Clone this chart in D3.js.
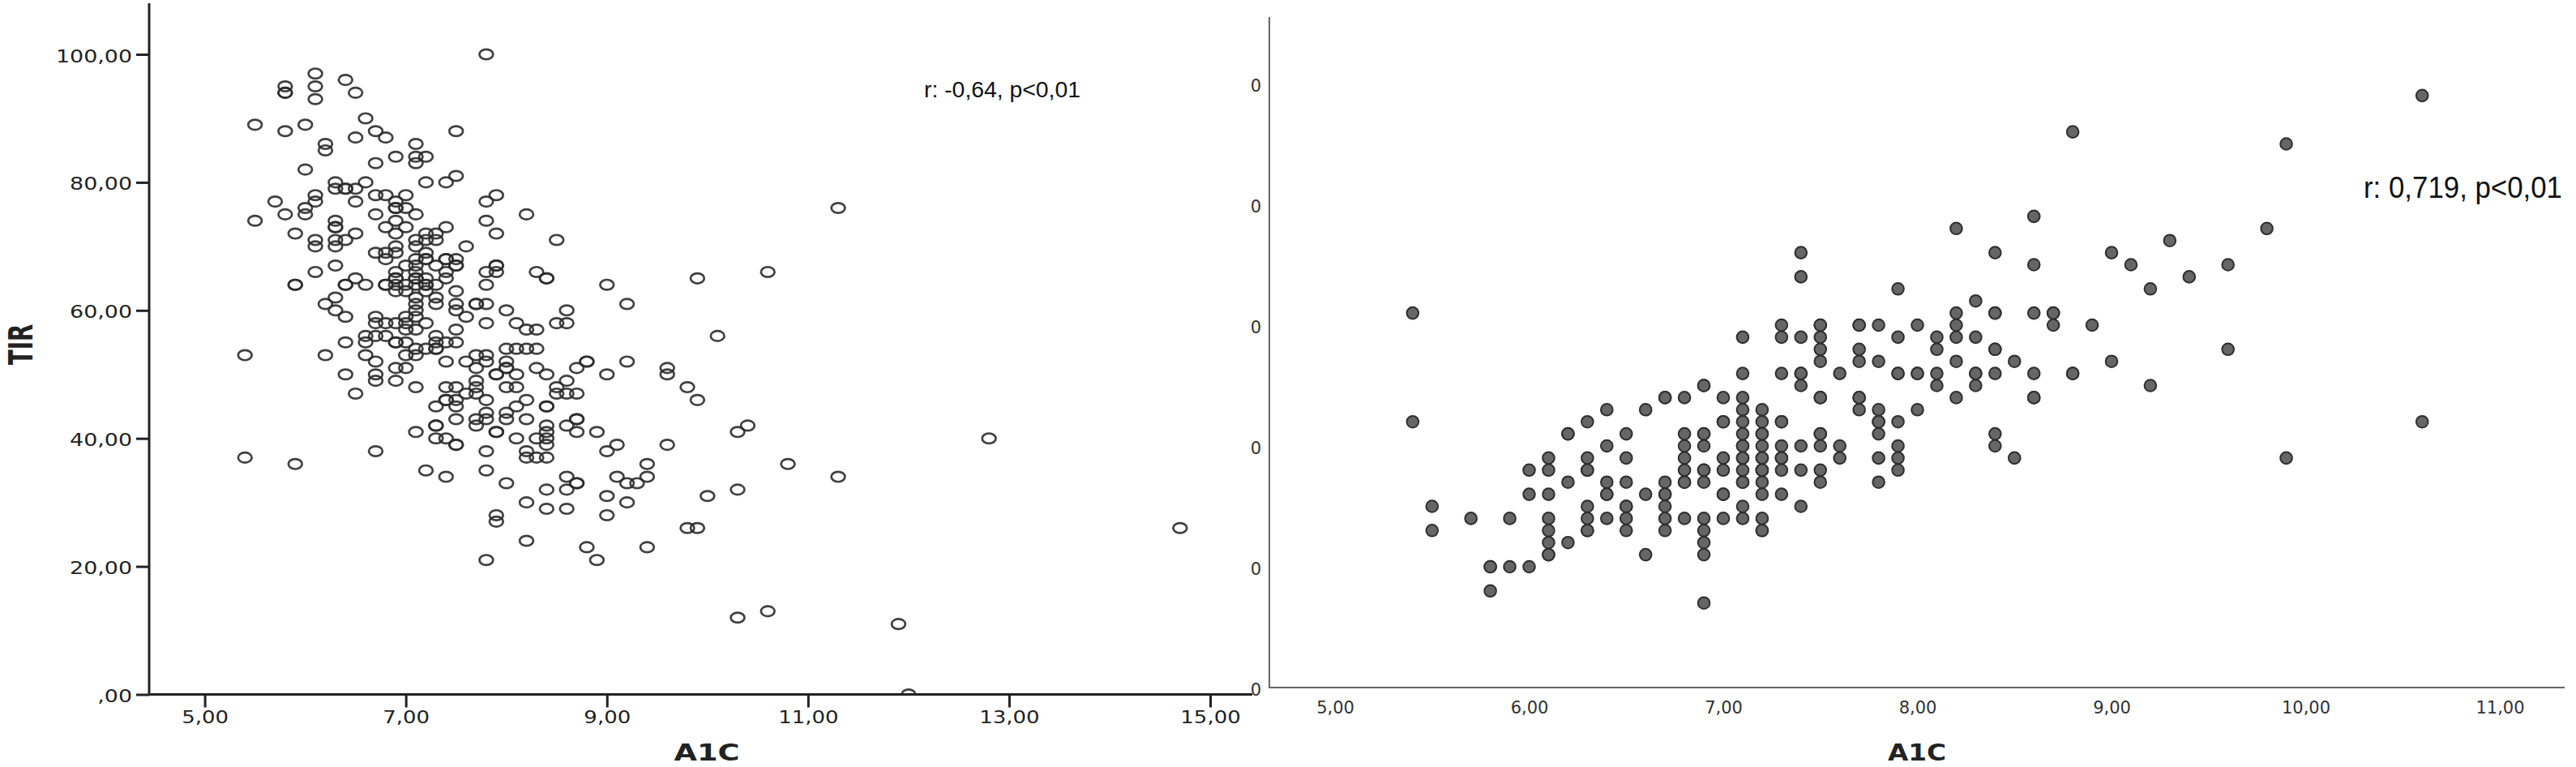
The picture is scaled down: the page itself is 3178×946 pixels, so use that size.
<!DOCTYPE html>
<html><head><meta charset="utf-8">
<script src="https://cdn.jsdelivr.net/npm/d3@7/dist/d3.min.js"></script>
<style>html,body{margin:0;padding:0;background:#fff}svg{display:block}</style>
</head><body><svg id="c" width="3178" height="946"></svg>
<script>
// TIR vs A1C: one row per TIR value, listing the A1C values at that TIR
const tirLevels=[100,97,96,95,94,93,90,89,88,87,86,85,84,83,82,81,80,79,78,77,76,75,74,73,72,71,70,69,68,67,66,65,64,63,62,61,60,59,58,57,56,55,54,53,52,51,50,49,48,47,46,45,44,43,42,41,40,39,38,37,36,35,34,33,32,31,30,29,28,27,26,24,23,21,13,12,11,0];
const tirA1c=[
[7.8],[6.1],[6.4],[5.8,6.1],[5.8,5.8,6.5],[6.1],[6.6],[5.5,6.0],[5.8,6.7,7.5],[6.5,6.8],[6.2,7.1],[6.2],[6.9,7.1,7.2],[6.7,7.1],[6.0],[7.5],
[6.3,6.6,7.2,7.4],[6.3,6.4,6.4,6.5],[6.1,6.7,6.8,7.0,7.9],[5.7,6.1,6.5,6.9,7.8],[6.0,6.9,6.9,7.0,11.3],[5.8,6.0,6.7,7.1,8.2],[5.5,6.3,6.9,7.8],
[6.3,6.3,6.8,7.0,7.4],[5.9,6.5,6.9,7.2,7.3,7.9],[6.1,6.3,6.4,7.1,7.2,7.3,8.5],[6.1,6.3,6.9,7.1,7.6],[6.7,6.8,6.9,7.2],[6.8,7.1,7.2,7.2,7.4,7.4,7.5],
[6.3,7.0,7.1,7.3,7.5,7.5,7.9,7.9],[6.1,6.9,7.1,7.4,7.8,7.9,8.3,10.6],[6.5,6.9,6.9,7.1,7.1,7.2,7.4,8.4,8.4,9.9],
[5.9,5.9,6.4,6.4,6.6,6.8,6.8,6.9,7.0,7.1,7.2,7.2,7.3,7.8,9.0],[6.9,7.0,7.2,7.5],[6.3,7.1,7.3],[6.2,7.1,7.3,7.5,7.7,7.7,7.8,9.2],[6.3,7.1,7.5,8.0,8.6],
[6.4,6.7,7.0,7.1,7.6],[6.7,6.8,6.9,7.0,7.2,7.8,8.1,8.5,8.6],[7.0,7.1,7.5,8.2,8.3],[6.6,6.7,6.8,7.3,10.1],[6.4,6.6,6.9,6.9,7.0,7.3,7.4,7.5],
[7.1,7.2,7.3,7.3,8.0,8.1,8.2,8.3],[5.4,6.2,6.6,7.0,7.1,7.7,7.8],[6.7,7.4,7.6,7.8,8.0,8.8,8.8,9.2],[6.9,7.0,7.7,8.0,8.0,8.3,8.7,9.6],[6.4,6.7,7.9,7.9,8.1,8.4,9.0,9.6],
[6.7,6.9,7.7,8.6],[7.1,7.4,7.5,7.7,8.0,8.1,8.5,9.8],[6.5,7.6,7.7,8.5,8.6,8.7],[7.4,7.4,7.5,7.8,8.2,9.9],[7.3,7.5,8.1,8.4,8.4],[7.8,8.0],
[7.5,7.7,7.8,8.0,8.2,8.7,8.7],[7.3,7.3,7.7,8.4,8.6,10.4],[7.1,7.9,7.9,8.4,8.7,8.9,10.3],[7.3,7.4,8.1,8.3,8.4,12.8],[7.5,7.5,8.4,9.1,9.6],
[6.7,7.8,8.2,9.0],[5.4,8.2,8.3,8.4],[5.9,9.4,10.8],[7.2,7.8],[7.4,8.6,9.1,9.4,11.3],[8.0,8.7,8.7,9.2,9.3],[8.4,8.6,10.3],[9.0,10.0],[8.2,9.2],[8.4,8.6],
[7.9,9.0],[7.9],[9.8,9.9,14.7],[8.2],[8.8,9.4],[7.8,8.9],[10.6],[10.3],[11.9],[12.0]];

// Second panel: one row per A1C value, listing the y values at that A1C
const rightA1c=[5.4,5.5,5.7,5.8,5.9,6.0,6.1,6.2,6.3,6.4,6.5,6.6,6.7,6.8,6.9,7.0,7.1,7.2,7.3,7.4,7.5,7.6,7.7,7.8,7.9,8.0,8.1,8.2,8.3,8.4,8.5,8.6,8.7,8.8,8.9,9.0,9.1,9.2,9.3,9.4,9.6,9.8,9.9,10.6];
const rightValues=[
[41,32],[25,23],[24],[20,20,18],[24,20],[28,26,20],[29,28,26,24,23,22,21,21],[31,31,27,22],[32,29,28,28,25,24,23,23],[33,30,27,26,26,24],[31,29,27,25,25,24,23],[33,26,21],
[34,34,27,26,26,25,24,23],[34,31,30,29,28,27,27,24],[35,35,31,31,30,28,28,27,24,23,22,21,17],[34,32,32,29,28,26,26,24],[39,36,34,33,32,31,30,30,29,29,28,27,27,25,24],
[33,32,31,31,30,29,29,28,28,28,27,26,24,23,23],[40,39,36,32,32,30,29,29,28,26],[46,44,39,36,36,35,30,28,25],[40,40,39,38,37,34,34,31,31,30,28,27],[36,30,29],[40,40,38,37,34,34,33],
[40,37,33,32,32,31,29,27],[43,39,36,36,32,30,29,28],[40,36,36,33],[39,38,36,35],[48,41,40,39,37,34],[42,39,36,36,35],[46,41,41,38,38,36,31,30],[37,29],[49,45,41,36,34,34],[41,41,40],[56,36,36],[40],[46,37],[45],[43,35],[47],[44],[45,38],[48],[55,29],[59,32]];

const leftXTicks=[5,7,9,11,13,15];
const leftYTicks=[0,20,40,60,80,100];
const rightXTicks=[5,6,7,8,9,10,11];
const rightYTicks=[10,20,30,40,50,60];
const leftNote="r: -0,64, p<0,01";
const rightNote="r: 0,719, p<0,01";
const xTitle="A1C", yTitle="TIR";

const comma=v=>d3.format(".2f")(v).replace(".",",");
const leftTick=v=>(v===0?",00":comma(v));
const svg=d3.select("#c");
const stretch=(sel,k)=>sel.each(function(){const n=this;n.setAttribute("textLength",n.getComputedTextLength()*k);n.setAttribute("lengthAdjust","spacingAndGlyphs");});

/* ---------- left panel ---------- */
const xL=d3.scaleLinear().domain([5,15]).range([252.6,1493]);
const yL=d3.scaleLinear().domain([0,100]).range([856.5,67]);
const leftPts=tirLevels.flatMap((t,i)=>tirA1c[i].map(a=>({a,t})));
svg.append("defs").append("clipPath").attr("id","clipL").append("rect").attr("x",184).attr("y",0).attr("width",1400).attr("height",856.5);

svg.append("g").attr("clip-path","url(#clipL)").selectAll("ellipse").data(leftPts).join("ellipse")
  .attr("cx",d=>xL(d.a)).attr("cy",d=>yL(d.t)).attr("rx",8.4).attr("ry",6.2)
  .attr("fill","none").attr("stroke","#2b2b2b").attr("stroke-width",2.7).attr("stroke-opacity",.9);

const axL=svg.append("g").attr("transform","translate(184,0)").call(d3.axisLeft(yL).tickValues(leftYTicks).tickFormat(leftTick).tickSize(16).tickPadding(5));
axL.select(".domain").remove();
axL.selectAll("line").attr("stroke","#222").attr("stroke-width",3);
axL.selectAll("text").attr("font-family","DejaVu Sans").attr("font-size",21).attr("fill","#222").attr("dy",9).call(stretch,1.28);
svg.append("line").attr("x1",184).attr("x2",184).attr("y1",4).attr("y2",857).attr("stroke","#222").attr("stroke-width",3);

const bxL=svg.append("g").attr("transform","translate(0,856.5)").call(d3.axisBottom(xL).tickValues(leftXTicks).tickFormat(comma).tickSize(16).tickPadding(4));
bxL.select(".domain").remove();
bxL.selectAll("line").attr("stroke","#222").attr("stroke-width",3);
bxL.selectAll("text").attr("font-family","DejaVu Sans").attr("font-size",22).attr("fill","#222").call(stretch,1.18);
svg.append("line").attr("x1",184).attr("x2",1545).attr("y1",856.5).attr("y2",856.5).attr("stroke","#222").attr("stroke-width",3);

svg.append("text").text(yTitle).attr("transform","translate(40,425) rotate(-90) scale(.92,1.37)")
  .attr("text-anchor","middle").attr("font-family","DejaVu Sans").attr("font-weight","bold").attr("font-size",30).attr("fill","#222");
svg.append("text").text(xTitle).attr("x",872).attr("y",938).attr("text-anchor","middle")
  .attr("font-family","DejaVu Sans").attr("font-weight","bold").attr("font-size",29).attr("fill","#222").call(stretch,1.27);
svg.append("text").text(leftNote).attr("x",1140).attr("y",120).attr("font-family","Liberation Sans").attr("font-size",28).attr("fill","#111").attr("textLength",193).attr("lengthAdjust","spacingAndGlyphs");

/* ---------- right panel ---------- */
const xR=d3.scaleLinear().domain([5,11]).range([1647,3084]);
const yR=d3.scaleLinear().domain([10,60]).range([848,103]);
const rightPts=rightA1c.flatMap((a,i)=>rightValues[i].map(v=>({a,v})));

svg.append("g").selectAll("circle").data(rightPts).join("circle")
  .attr("cx",d=>xR(d.a)).attr("cy",d=>yR(d.v)).attr("r",7.3)
  .attr("fill","#666").attr("stroke","#2e2e2e").attr("stroke-width",2);

const axR=svg.append("g").attr("transform","translate(1566,0)").call(d3.axisLeft(yR).tickValues(rightYTicks).tickFormat(()=>"0").tickSize(0).tickPadding(10));
axR.select(".domain").remove();
axR.selectAll("text").attr("font-family","DejaVu Sans").attr("font-size",21).attr("fill","#333").attr("dy",9);
svg.append("line").attr("x1",1566).attr("x2",1566).attr("y1",21).attr("y2",849).attr("stroke","#666").attr("stroke-width",2);

const bxR=svg.append("g").attr("transform","translate(0,848)").call(d3.axisBottom(xR).tickValues(rightXTicks).tickFormat(comma).tickSize(0).tickPadding(17));
bxR.select(".domain").remove();
bxR.selectAll("text").attr("font-family","DejaVu Sans").attr("font-size",21).attr("fill","#333");
svg.append("line").attr("x1",1565).attr("x2",3164).attr("y1",848).attr("y2",848).attr("stroke","#666").attr("stroke-width",2);

svg.append("text").text(xTitle).attr("x",2365).attr("y",938).attr("text-anchor","middle")
  .attr("font-family","DejaVu Sans").attr("font-weight","bold").attr("font-size",29).attr("fill","#222").call(stretch,1.13);
svg.append("text").text(rightNote).attr("x",2916).attr("y",244).attr("font-family","Liberation Sans").attr("font-size",36).attr("fill","#111").attr("textLength",245).attr("lengthAdjust","spacingAndGlyphs");
</script></body></html>
